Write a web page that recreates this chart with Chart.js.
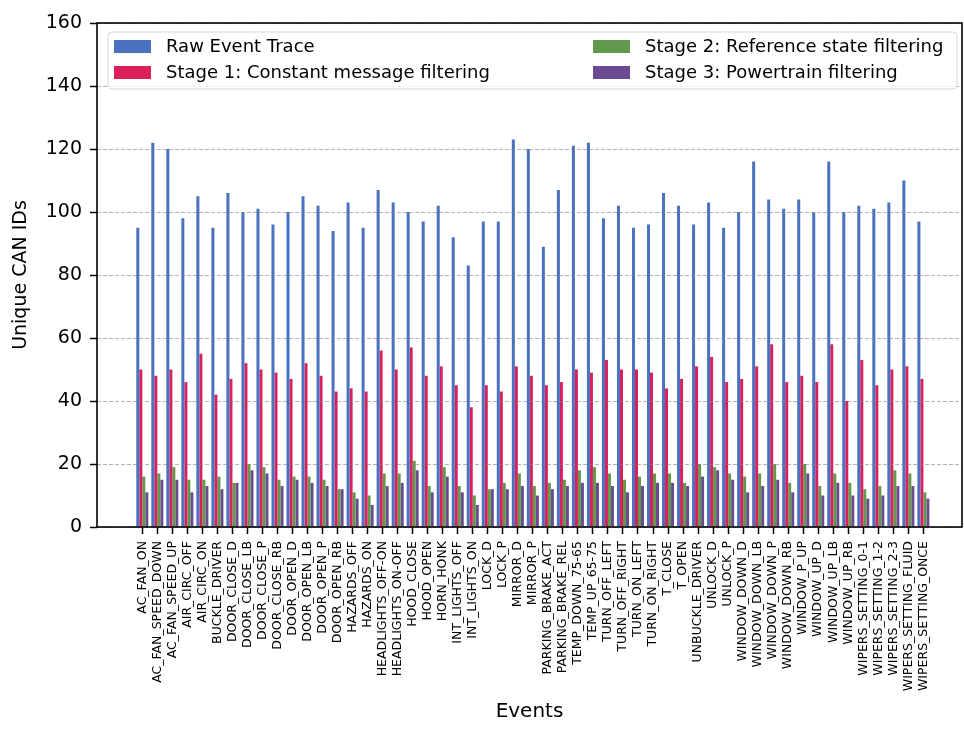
<!DOCTYPE html>
<html>
<head>
<meta charset="utf-8">
<script src="https://cdn.jsdelivr.net/npm/chart.js@4/dist/chart.umd.min.js"></script>
<style>
  html, body { margin: 0; padding: 0; background: #ffffff; }
  #wrap { width: 964px; height: 729px; }
</style>
</head>
<body>
<div id="wrap"><canvas id="c" width="964" height="729"></canvas></div>
<script>
// Events recorded on the vehicle bus
const events = [
  'AC_FAN_ON', 'AC_FAN_SPEED_DOWN', 'AC_FAN_SPEED_UP', 'AIR_CIRC_OFF', 'AIR_CIRC_ON',
  'BUCKLE_DRIVER', 'DOOR_CLOSE_D', 'DOOR_CLOSE_LB', 'DOOR_CLOSE_P', 'DOOR_CLOSE_RB',
  'DOOR_OPEN_D', 'DOOR_OPEN_LB', 'DOOR_OPEN_P', 'DOOR_OPEN_RB', 'HAZARDS_OFF',
  'HAZARDS_ON', 'HEADLIGHTS_OFF-ON', 'HEADLIGHTS_ON-OFF', 'HOOD_CLOSE', 'HOOD_OPEN',
  'HORN_HONK', 'INT_LIGHTS_OFF', 'INT_LIGHTS_ON', 'LOCK_D', 'LOCK_P',
  'MIRROR_D', 'MIRROR_P', 'PARKING_BRAKE_ACT', 'PARKING_BRAKE_REL', 'TEMP_DOWN_75-65',
  'TEMP_UP_65-75', 'TURN_OFF_LEFT', 'TURN_OFF_RIGHT', 'TURN_ON_LEFT', 'TURN_ON_RIGHT',
  'T_CLOSE', 'T_OPEN', 'UNBUCKLE_DRIVER', 'UNLOCK_D', 'UNLOCK_P',
  'WINDOW_DOWN_D', 'WINDOW_DOWN_LB', 'WINDOW_DOWN_P', 'WINDOW_DOWN_RB', 'WINDOW_P_UP',
  'WINDOW_UP_D', 'WINDOW_UP_LB', 'WINDOW_UP_RB', 'WIPERS_SETTING_0-1', 'WIPERS_SETTING_1-2',
  'WIPERS_SETTING_2-3', 'WIPERS_SETTING_FLUID', 'WIPERS_SETTING_ONCE'
];

// Unique CAN IDs remaining after each filtering stage
const rawTrace = [
  95, 122, 120, 98, 105, 95, 106, 100, 101, 96,
  100, 105, 102, 94, 103, 95, 107, 103, 100, 97,
  102, 92, 83, 97, 97, 123, 120, 89, 107, 121,
  122, 98, 102, 95, 96, 106, 102, 96, 103, 95,
  100, 116, 104, 101, 104, 100, 116, 100, 102, 101,
  103, 110, 97
];
const stage1 = [
  50, 48, 50, 46, 55, 42, 47, 52, 50, 49,
  47, 52, 48, 43, 44, 43, 56, 50, 57, 48,
  51, 45, 38, 45, 43, 51, 48, 45, 46, 50,
  49, 53, 50, 50, 49, 44, 47, 51, 54, 46,
  47, 51, 58, 46, 48, 46, 58, 40, 53, 45,
  50, 51, 47
];
const stage2 = [
  16, 17, 19, 15, 15, 16, 14, 20, 19, 15,
  16, 16, 15, 12, 11, 10, 17, 17, 21, 13,
  19, 13, 10, 12, 14, 17, 13, 14, 15, 18,
  19, 17, 15, 16, 17, 17, 14, 20, 19, 17,
  16, 17, 20, 14, 20, 13, 17, 14, 12, 13,
  18, 17, 11
];
const stage3 = [
  11, 15, 15, 11, 13, 12, 14, 18, 17, 13,
  15, 14, 13, 12, 9, 7, 13, 14, 18, 11,
  16, 11, 7, 12, 12, 13, 10, 12, 13, 14,
  14, 13, 11, 13, 14, 14, 13, 16, 18, 15,
  11, 13, 15, 11, 17, 10, 14, 10, 9, 10,
  13, 13, 9
];

const seriesNames = [
  'Raw Event Trace',
  'Stage 1: Constant message filtering',
  'Stage 2: Reference state filtering',
  'Stage 3: Powertrain filtering'
];
const yTicks = [0, 20, 40, 60, 80, 100, 120, 140, 160];

const colors = ['#4a72c0', '#dc1e5a', '#60994c', '#6a4b93'];
const FONT = "'DejaVu Sans', 'Liberation Sans', sans-serif";

const toPoints = arr => arr.map((v, i) => ({ x: i, y: v }));

const datasets = [rawTrace, stage1, stage2, stage3].map((arr, k) => ({
  label: seriesNames[k],
  data: toPoints(arr),
  backgroundColor: colors[k],
  borderWidth: 0,
  categoryPercentage: 0.8,
  barPercentage: 1.0
}));

// Frame around the plot area (all four spines)
const framePlugin = {
  id: 'frame',
  afterDraw(chart) {
    const { ctx, chartArea: a } = chart;
    ctx.save();
    ctx.strokeStyle = '#000000';
    ctx.lineWidth = 1.6;
    ctx.strokeRect(a.left, a.top, a.right - a.left, a.bottom - a.top);
    ctx.restore();
  }
};

// Two-column legend box inside the top of the plot area
const legendBox = {
  id: 'legendBox',
  afterDraw(chart) {
    const { ctx, chartArea: a } = chart;
    const ds = chart.data.datasets;
    const x0 = a.left + 11, x1 = a.right - 5;
    const y0 = a.top + 9, y1 = a.top + 66;
    const r = 4;
    ctx.save();
    ctx.beginPath();
    ctx.moveTo(x0 + r, y0);
    ctx.lineTo(x1 - r, y0);
    ctx.quadraticCurveTo(x1, y0, x1, y0 + r);
    ctx.lineTo(x1, y1 - r);
    ctx.quadraticCurveTo(x1, y1, x1 - r, y1);
    ctx.lineTo(x0 + r, y1);
    ctx.quadraticCurveTo(x0, y1, x0, y1 - r);
    ctx.lineTo(x0, y0 + r);
    ctx.quadraticCurveTo(x0, y0, x0 + r, y0);
    ctx.closePath();
    ctx.fillStyle = 'rgba(255,255,255,0.8)';
    ctx.fill();
    ctx.strokeStyle = '#d6d6d6';
    ctx.lineWidth = 1;
    ctx.stroke();

    const colX = [x0 + 6, a.left + 496];
    const rowY = [a.top + 23.5, a.top + 49.5];
    ctx.font = '18px ' + FONT;
    ctx.textBaseline = 'middle';
    ctx.textAlign = 'left';
    ds.forEach((d, i) => {
      const cx = colX[Math.floor(i / 2)];
      const cy = rowY[i % 2];
      ctx.fillStyle = d.backgroundColor;
      ctx.fillRect(cx, cy - 6.5, 37, 13);
      ctx.fillStyle = '#000000';
      ctx.fillText(d.label, cx + 52, cy + 1);
    });
    ctx.restore();
  }
};

new Chart(document.getElementById('c'), {
  type: 'bar',
  data: { datasets },
  options: {
    responsive: false,
    animation: false,
    events: [],
    layout: { padding: { top: 23, right: 2, left: 0, bottom: 0 } },
    plugins: {
      legend: { display: false },
      tooltip: { enabled: false }
    },
    scales: {
      x: {
        type: 'linear',
        offset: false,
        min: -3.016,
        max: 54.57,
        afterBuildTicks(scale) {
          scale.ticks = events.map((_, i) => ({ value: i }));
        },
        afterFit(scale) { scale.height = 202; },
        ticks: {
          autoSkip: false,
          maxRotation: 90,
          minRotation: 90,
          padding: 7,
          color: '#000000',
          font: { family: FONT, size: 12.5 },
          callback: v => events[v]
        },
        grid: {
          offset: false,
          drawOnChartArea: false,
          drawTicks: true,
          tickLength: 7,
          tickWidth: 1.5,
          tickColor: '#000000'
        },
        border: { display: false },
        title: {
          display: true,
          text: 'Events',
          color: '#000000',
          font: { family: FONT, size: 20 },
          padding: { top: 0, bottom: 5 }
        }
      },
      y: {
        min: 0,
        max: 160,
        afterBuildTicks(scale) {
          scale.ticks = yTicks.map(v => ({ value: v }));
        },
        afterFit(scale) { scale.width = 97; },
        ticks: {
          padding: 8,
          color: '#000000',
          font: { family: FONT, size: 19 }
        },
        grid: {
          z: 1,
          color: 'rgba(128,128,128,0.6)',
          lineWidth: 1,
          drawTicks: true,
          tickLength: 7,
          tickWidth: 1.5,
          tickColor: '#000000'
        },
        border: { display: false, dash: [4, 2] },
        title: {
          display: true,
          text: 'Unique CAN IDs',
          color: '#000000',
          font: { family: FONT, size: 19 },
          padding: { top: 10, bottom: 0 }
        }
      }
    }
  },
  plugins: [framePlugin, legendBox]
});
</script>
</body>
</html>
